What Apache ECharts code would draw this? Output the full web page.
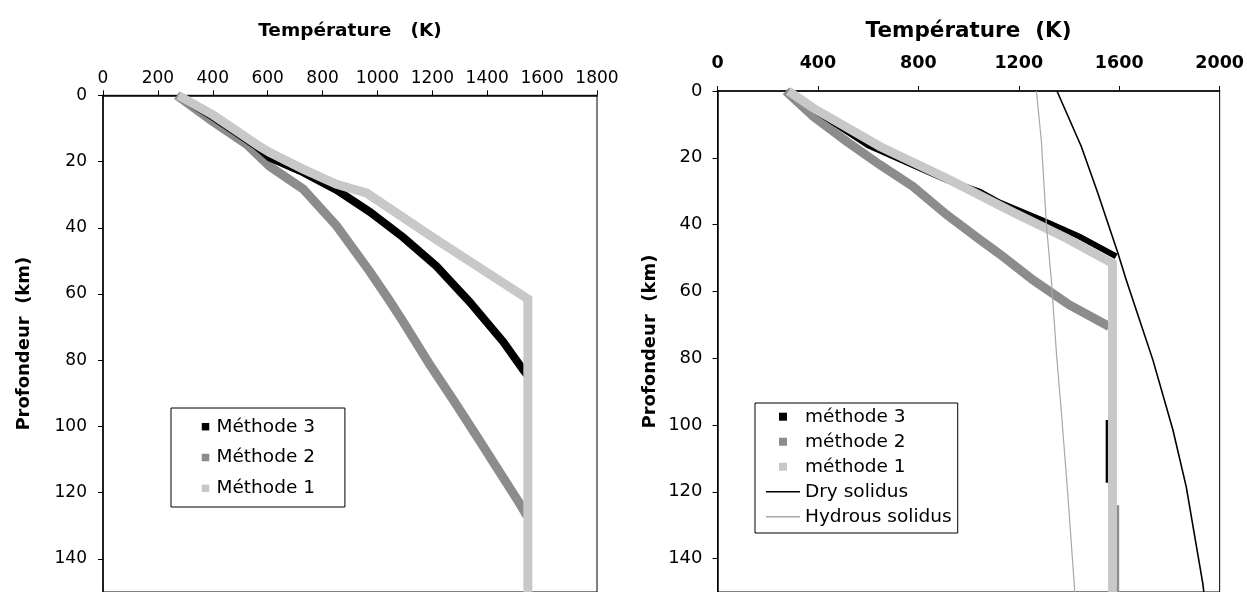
<!DOCTYPE html>
<html><head><meta charset="utf-8">
<script src="https://cdn.jsdelivr.net/npm/echarts@6/dist/echarts.min.js"></script>
<style>html,body{margin:0;padding:0;background:#fff}#c{width:1247px;height:592px}</style>
</head><body><div id="c"></div>
<script>
// ---------- data: [temperature K, depth km] ----------
// Left panel
const leftMethode3 = [[274,0],[402,6.5],[559,15.3],[608,18.8],[729,23.2],[851,28.6],[972,35.2],[1094,42.9],[1215,51.6],[1336,62.4],[1458,74.4],[1531,82.9],[1546,84.5]];
const leftMethode2 = [[269,0],[402,8],[523,14.8],[608,21.5],[729,28.3],[851,39.4],[972,53.2],[1039,61.4],[1094,68.4],[1191,81.4],[1280,92.5],[1373,104.4],[1519,123.4],[1545,127]];
const leftMethode1 = [[274,0],[402,6],[572,15.5],[608,17.3],[729,22.3],[851,26.9],[960,29.5],[1215,43.6],[1548,61.5],[1548,150]];
// Right panel
const rightMethode3 = [[282,0],[381,5.5],[600,16.3],[912,26.6],[1045,30.2],[1124,33.4],[1310,39.2],[1442,43.6],[1588,49.5],['-','-'],[1558,98.5],[1558,117.3]];
const rightMethode2 = [[272,0],[381,7.6],[514,15.1],[647,22.1],[779,28.6],[912,37],[1045,44.5],[1124,48.8],[1257,56.6],[1400,64],[1560,70.5],['-','-'],[1582,124],[1582,150]];
const rightMethode1 = [[282,0],[381,5.1],[647,16.6],[912,26.1],[1177,36.3],[1390,44.1],[1573,51.6],[1573,150]];
const drySolidus = [[1352,0],[1449,16.6],[1515,30.6],[1595,48.6],[1628,56.6],[1734,80.5],[1814,101.5],[1867,118.5],[1933,147.5],[1937,150]];
const hydrousSolidus = [[1270,0],[1290,15],[1310,40],[1330,57],[1350,78.5],[1370,96.5],[1396,121.5],[1423,150]];
// tick labels
const leftTempTicks = [0,200,400,600,800,1000,1200,1400,1600,1800];
const rightTempTicks = [0,400,800,1200,1600,2000];
const depthTicks = [0,20,40,60,80,100,120,140];
const depthMax = 150;
const leftNames = ['Méthode 3','Méthode 2','Méthode 1'];
const rightNames = ['méthode 3','méthode 2','méthode 1','Dry solidus','Hydrous solidus'];

const FF = 'DejaVu Sans';
const SQ = 'path://M0,0h10v10h-10z';
const LN = 'path://M0,0h68v3h-68z';
const C3 = '#000000', C2 = '#8c8c8c', C1 = '#c8c8c8';
const plain = v => String(v);

function xAx(grid, ticks, name, nameSize, labelFont, labelWeight, gap, margin){
  return {gridIndex:grid, type:'value', position:'top', min:ticks[0], max:ticks[ticks.length-1],
    interval:ticks[1]-ticks[0], name:name, nameLocation:'middle', nameGap:gap,
    nameTextStyle:{fontFamily:FF, fontWeight:'bold', fontSize:nameSize, color:'#000'},
    axisLine:{show:true, onZero:false, lineStyle:{color:'#000', width:1.5}},
    axisTick:{show:true, inside:false, length:5, lineStyle:{color:'#000', width:1}},
    axisLabel:{fontFamily:FF, fontSize:labelFont, fontWeight:labelWeight, color:'#000', margin:margin, formatter:plain},
    splitLine:{show:false}};
}
function yAx(grid, gap, margin, labelFont){
  return {gridIndex:grid, type:'value', inverse:true, min:depthTicks[0], max:depthMax,
    interval:depthTicks[1]-depthTicks[0], name:'Profondeur  (km)', nameLocation:'middle', nameGap:gap,
    nameTextStyle:{fontFamily:FF, fontWeight:'bold', fontSize:18, color:'#000'},
    axisLine:{show:true, onZero:false, lineStyle:{color:'#000', width:1.5}},
    axisTick:{show:true, inside:false, length:5, lineStyle:{color:'#000', width:1}},
    axisLabel:{fontFamily:FF, fontSize:labelFont, color:'#000', margin:margin, showMaxLabel:false, formatter:plain},
    splitLine:{show:false}};
}
function band(name, data, color, width, xi, z){
  return {name:name, type:'line', xAxisIndex:xi, yAxisIndex:xi, data:data, symbol:'none',
    color:color, itemStyle:{color:color}, z:z, connectNulls:false,
    lineStyle:{color:color, width:width, cap:'butt', join:'miter'}, animation:false};
}

const chart = echarts.init(document.getElementById('c'), null, {renderer:'canvas'});
chart.setOption({
  backgroundColor:'#fff',
  animation:false,
  textStyle:{fontFamily:FF},
  grid:[
    {left:103, top:95.3, width:494, height:500, show:true, borderColor:'#000', borderWidth:1},
    {left:717.5, top:91, width:502.5, height:502, show:true, borderColor:'#000', borderWidth:1}
  ],
  xAxis:[
    xAx(0, leftTempTicks, 'Température   (K)', 18.5, 17, 'normal', 55, 8),
    xAx(1, rightTempTicks, 'Température  (K)', 21.5, 17.5, 'bold', 49, 19)
  ],
  yAxis:[ yAx(0, 70, 16, 17), yAx(1, 58, 15, 18) ],
  legend:[
    {data:leftNames.map(n=>({name:n, icon:SQ})), orient:'vertical', left:171, top:408,
     padding:[8.7,30,8.7,30.75], itemWidth:12, itemHeight:7.5, itemGap:10.8,
     textStyle:{fontFamily:FF, fontSize:18.5, lineHeight:20, color:'#000'},
     borderColor:'#000', borderWidth:1, backgroundColor:'#fff', selectedMode:false, symbolKeepAspect:true},
    {data:rightNames.map((n,i)=> ({name:n, icon: i<3 ? SQ : LN})), orient:'vertical', left:755, top:403,
     padding:[3.7,6,6.3,11], itemWidth:34, itemHeight:8, itemGap:5,
     textStyle:{fontFamily:FF, fontSize:18.5, lineHeight:20, color:'#000'},
     borderColor:'#000', borderWidth:1, backgroundColor:'#fff', selectedMode:false, symbolKeepAspect:true}
  ],
  series:[
    band(leftNames[1], leftMethode2, C2, 9, 0, 2),
    band(leftNames[0], leftMethode3, C3, 8, 0, 3),
    band(leftNames[2], leftMethode1, C1, 9, 0, 4),
    band(rightNames[1], rightMethode2, C2, 9, 1, 2),
    band(rightNames[0], rightMethode3, C3, 6, 1, 3),
    band(rightNames[2], rightMethode1, C1, 9, 1, 4),
    band(rightNames[3], drySolidus, '#000000', 1.6, 1, 5),
    band(rightNames[4], hydrousSolidus, '#a8a8a8', 1.2, 1, 5)
  ]
});
</script></body></html>
